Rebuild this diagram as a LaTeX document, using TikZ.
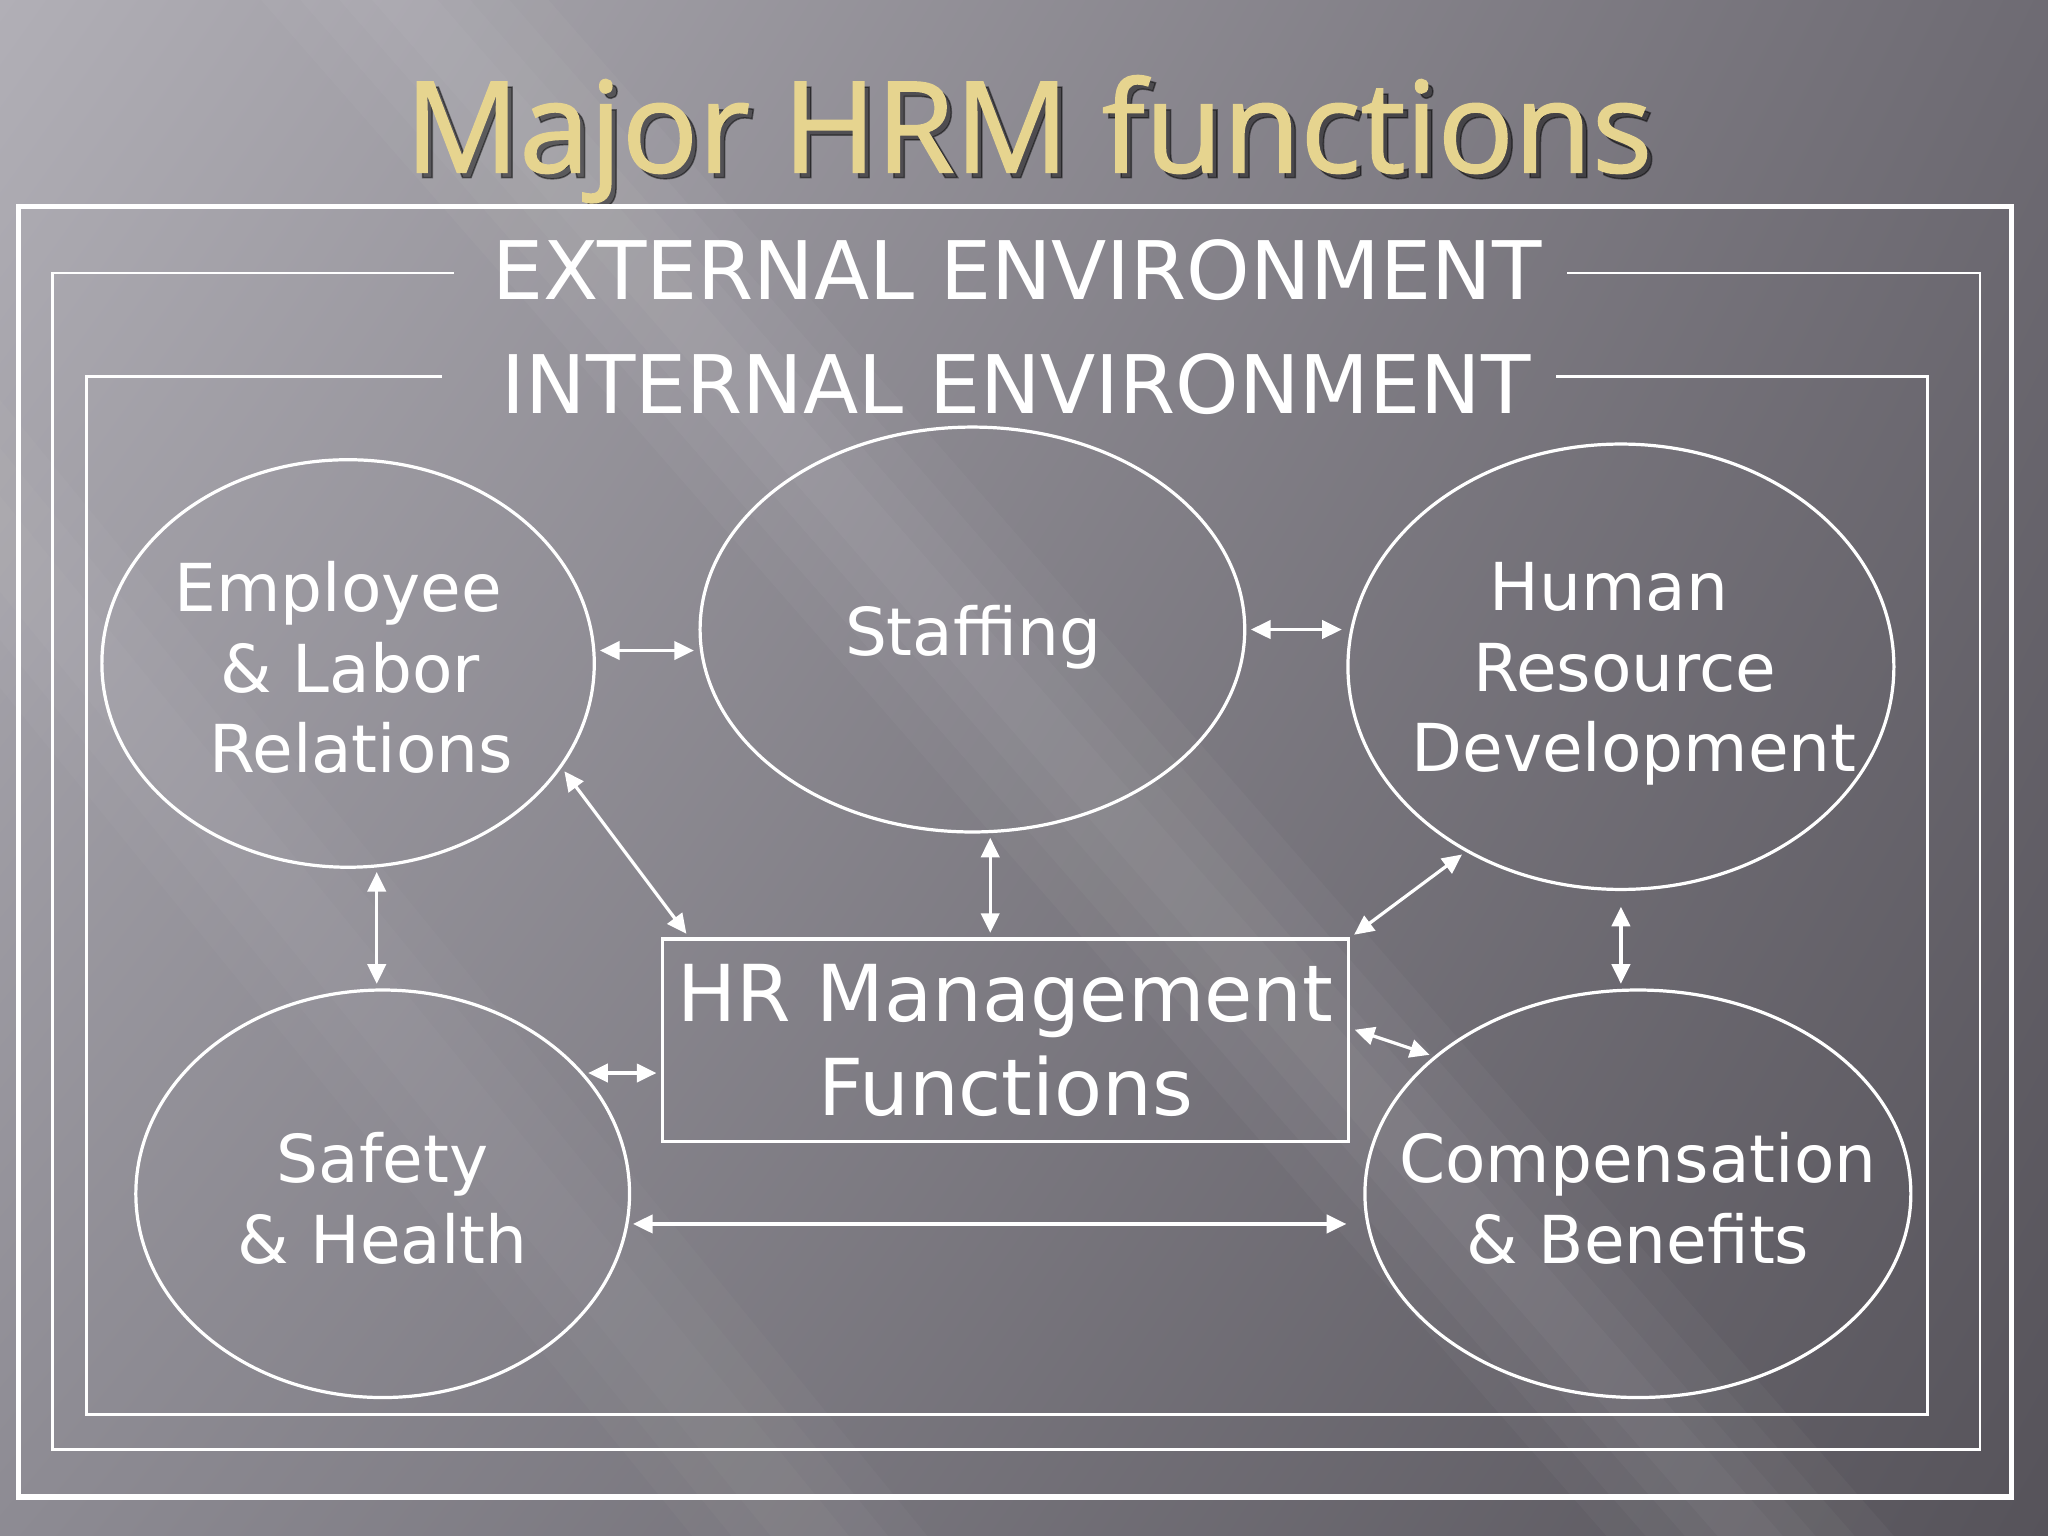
\documentclass[tikz,border=0pt]{standalone}
\usepackage{fontspec}
\setmainfont{DejaVu Sans}
\newfontfamily\titlefont[FakeBold=1.2]{Open Sans}
\usepackage{tikz}
\usetikzlibrary{positioning, calc}
\usetikzlibrary{arrows.meta}
\usetikzlibrary{shapes,shadings}
\definecolor{bgul}{HTML}{B1AFB6}
\definecolor{bgur}{HTML}{6E6B73}
\definecolor{bgll}{HTML}{8D8B93}
\definecolor{bglr}{HTML}{56535A}
\definecolor{titlegold}{HTML}{E6D48F}

\begin{document}
\begin{tikzpicture}[shorten >=1pt,shorten <=1pt]
 	\tikzstyle{e-node}=[ellipse,draw=white,line width=0.7pt]
 	\tikzstyle{e-text}=[text=white,align=center,font=\fontsize{14.4}{17.6}\selectfont]
 	\tikzstyle{env}=[text=white,font=\fontsize{17.6}{21}\selectfont,inner xsep=1.5mm,inner ysep=0pt]
 	\tikzstyle{frame}=[draw=white,line width=0.6pt]
 	\tikzstyle{link}=[draw=white,line width=0.7pt,{Triangle[length=1.5mm,width=1.4mm]}-{Triangle[length=1.5mm,width=1.4mm]}]
 	\tikzstyle{title-font}=[font=\titlefont\fontsize{27.6}{31}\selectfont,anchor=base]
 	% background
 	\useasboundingbox (0,0) rectangle (15.68,11.76);
 	\shade[upper left=bgul,upper right=bgur,lower left=bgll,lower right=bglr] (0,0) rectangle (15.68,11.76);
 	\begin{scope}
 	\clip (0,0) rectangle (15.68,11.76);
 	\foreach \w in {0.25,0.5,0.8,1.1}
 		\fill[white,opacity=0.03] (3.1-\w,11.76) -- (3.1+\w,11.76) -- (13.4+\w,0) -- (13.4-\w,0) -- cycle;
 	\foreach \w in {0.3,0.6,0.9}
 		\fill[white,opacity=0.025] (-3.4-\w,11.76) -- (-3.4+\w,11.76) -- (6.2+\w,0) -- (6.2-\w,0) -- cycle;
 	\end{scope}
 	% title
 	\node[title-font,text=black,opacity=0.45] (title-shadow) at (7.915,10.40) {Major HRM functions};
 	\node[title-font,text=titlegold] (title) at (7.875,10.44) {Major HRM functions};
 	% frames
 	\draw[white,line width=1.2pt] (0.14,10.18) rectangle (15.40,0.30);
 	\node[env] (ext) at (7.785,9.695) {EXTERNAL ENVIRONMENT};
 	\coordinate (ext-nw) at (0.40,9.67);
 	\coordinate (ext-se) at (15.16,0.66);
 	\draw[frame] ($(ext.west |- ext-nw)+(-0.1,0)$) -- (ext-nw) |- (ext-se) |- (ext.east |- ext-nw);
 	\node[env] (int) at (7.78,8.82) {INTERNAL ENVIRONMENT};
 	\coordinate (int-nw) at (0.66,8.88);
 	\coordinate (int-se) at (14.76,0.93);
 	\draw[frame] ($(int.west |- int-nw)+(-0.27,0)$) -- (int-nw) |- (int-se) |- (int.east |- int-nw);
 	% functions
 	\node[e-node,minimum width=3.77cm,minimum height=3.12cm] (emp) at (2.665,6.68) {};
 	\node[e-node,minimum width=4.17cm,minimum height=3.10cm] (staff) at (7.445,6.94) {};
 	\node[e-node,minimum width=4.18cm,minimum height=3.41cm] (hrd) at (12.41,6.655) {};
 	\node[e-node,minimum width=3.78cm,minimum height=3.12cm] (safety) at (2.93,2.62) {};
 	\node[e-node,minimum width=4.18cm,minimum height=3.12cm] (comp) at (12.54,2.62) {};
 	\node[e-text] (emp-label) at (2.62,6.65) {Employee\hspace*{0.6mm}\\\hspace*{1.2mm}\& Labor\\\hspace*{2.9mm}Relations};
 	\node[e-text] (staff-label) at (7.45,6.88) {Staffing};
 	\node[e-text] (hrd-label) at (12.44,6.60) {Human\hspace*{2.4mm}\\Resource\\\hspace*{1.4mm}Development};
 	\node[e-text] (safety-label) at (2.93,2.585) {Safety\\\& Health};
 	\node[e-text] (comp-label) at (12.54,2.585) {Compensation\\\& Benefits};
 	\node[draw=white,line width=0.7pt,minimum width=5.22cm,minimum height=1.55cm,text=white,align=center,font=\fontsize{17.1}{20.5}\selectfont] (hrm) at (7.70,3.795) {HR Management\\Functions};
 	% links
 	\draw[link] (emp.3.6) -- (emp.3.6 -| staff.west);
 	\draw[link] (staff.east) -- (staff.east -| hrd.west);
 	\draw[link] (emp.-26.1) -- (hrm.162.1);
 	\draw[link] (staff.-85.4) -- (staff.-85.4 |- hrm.north);
 	\draw[link] (hrd.230.9) -- (hrm.north east);
 	\draw[link] (emp.-82.2) -- (emp.-82.2 |- safety.north);
 	\draw[link,shorten <=1.2mm] (hrd.south) -- (hrd.south |- comp.north);
 	\draw[link] (safety.31.1) -- (safety.31.1 -| hrm.west);
 	\draw[link] (hrm.2.3) -- (comp.146.1);
 	\draw[link,shorten >=1.3mm] (safety.-7.75) -- (safety.-7.75 -| comp.west);
\end{tikzpicture}
\end{document}
